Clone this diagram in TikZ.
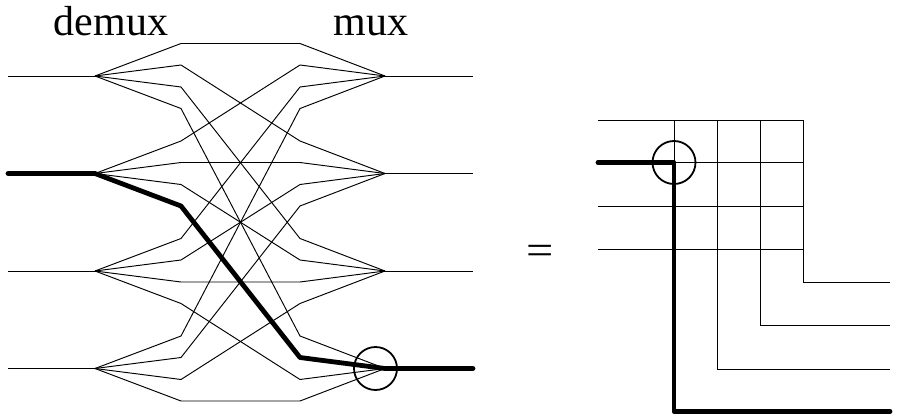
\documentclass[tikz,border=0pt]{standalone}
\usepackage{fontspec}
\setmainfont{Liberation Serif}
\tikzset{
  wire/.style={line width=0.95pt,line join=miter,black},
  heavy/.style={line width=4.8pt,line join=round,line cap=round,black},
  ring/.style={circle,draw,line width=1.8pt,minimum size=43pt,inner sep=0pt},
  lab/.style={font=\fontsize{42}{46}\selectfont,inner sep=0pt,anchor=base}
}
\begin{document}
\begin{tikzpicture}[x=1pt,y=-1pt]
\useasboundingbox (0,0) rectangle (897,415);
% hubs and line ends of the demux/mux network
\foreach \i/\y in {1/76,2/173.5,3/271,4/368.5}{
  \coordinate (in\i) at (8,\y);
  \coordinate (dm\i) at (95,\y);
  \coordinate (mx\i) at (385,\y);
  \coordinate (out\i) at (473,\y);
  \foreach \j/\d in {1/-32.5,2/-11,3/11,4/32.5}{
    \coordinate (L\i\j) at (181,\y+\d);
    \coordinate (R\i\j) at (300,\y+\d);
  }
}
% network wires
\foreach \i in {1,2,3,4}{
  \draw[wire] (in\i) -- (dm\i);
  \draw[wire] (mx\i) -- (out\i);
  \foreach \j in {1,2,3,4}{
    \draw[wire] (dm\i) -- (L\i\j) -- (R\j\i) -- (mx\j);
  }
}
\draw[heavy] (in2) -- (dm2) -- (L24) -- (R42) -- (mx4) -- (out4);
\node[ring] (c1) at (375.5,368.5) {};
\node[lab] (tdemux) at (111,35) {demux};
\node[lab] (tmux) at (371,35) {mux};
\node[lab,xscale=1.15] (teq) at (540,264) {=};
% crossbar
\foreach \i/\y/\x/\b in {1/120/803/282,2/162.5/760.5/325.5,3/206/717/369,4/249.5/674/411.5}{
  \coordinate (hs\i) at (598,\y);
  \coordinate (he\i) at (803,\y);
  \coordinate (vs\i) at (\x,120);
  \coordinate (ve\i) at (\x,\b);
  \coordinate (oe\i) at (890,\b);
}
\foreach \i in {1,2,3,4}{
  \draw[wire] (hs\i) -- (he\i);
  \draw[wire] (vs\i) -- (ve\i) -- (oe\i);
}
\coordinate (turn) at (674,162.5);
\draw[heavy] (hs2) -- (turn) -- (ve4) -- (oe4);
\node[ring] (c2) at (turn) {};
\end{tikzpicture}
\end{document}
